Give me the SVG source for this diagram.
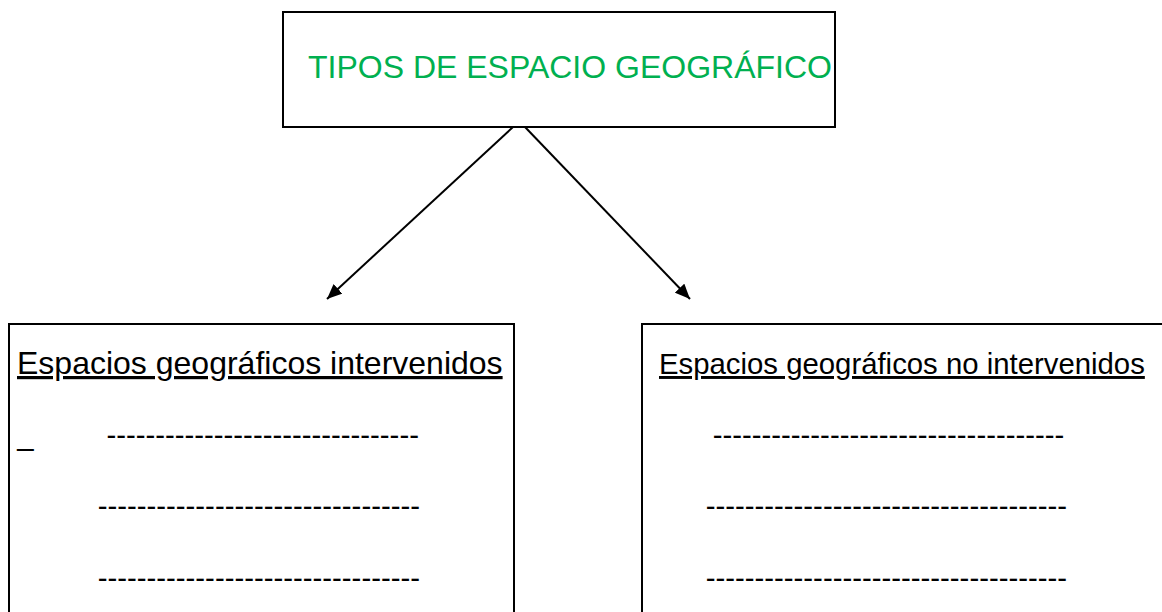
<svg xmlns="http://www.w3.org/2000/svg" width="1162" height="612" viewBox="0 0 1162 612">
<style>
.box{fill:#ffffff;stroke:#000000;stroke-width:2}
.t{font-family:"Liberation Sans",Arial,sans-serif;fill:#000000}
.title{font-size:32px;fill:#00B050}
.h{text-decoration:underline}
.s32{font-size:32px}
.s29{font-size:29.33px}
.conn{stroke:#000000;stroke-width:2;fill:none}
</style>
<defs>
<marker id="ah" markerUnits="userSpaceOnUse" markerWidth="16" markerHeight="13" refX="15" refY="6.5" orient="auto">
<path d="M0,0 L15,6.5 L0,13 Z" fill="#000000"/>
</marker>
</defs>
<rect width="1162" height="612" fill="#ffffff"/>
<g id="node-top">
<rect class="box" x="283" y="12" width="552" height="115"/>
<text class="t title" x="308" y="78">TIPOS DE ESPACIO GEOGRÁFICO</text>
</g>
<g id="node-left">
<rect class="box" x="9" y="324" width="505" height="300"/>
<text class="t s32 h" x="17" y="374">Espacios geográficos intervenidos</text>
<text class="t s29" x="17.3" y="445">_</text>
<text class="t s29" x="106.4" y="445">--------------------------------</text>
<text class="t s29" x="97.7" y="516">---------------------------------</text>
<text class="t s29" x="97.7" y="587.5">---------------------------------</text>
</g>
<g id="node-right">
<rect class="box" x="642" y="324" width="530" height="300"/>
<text class="t s29 h" x="659" y="374">Espacios geográficos no intervenidos</text>
<text class="t s29" x="712.7" y="445">------------------------------------</text>
<text class="t s29" x="705.7" y="516">-------------------------------------</text>
<text class="t s29" x="705.7" y="587.5">-------------------------------------</text>
</g>
<g id="connectors">
<line class="conn" x1="513" y1="127" x2="327" y2="299" marker-end="url(#ah)"/>
<line class="conn" x1="525" y1="127" x2="690" y2="299" marker-end="url(#ah)"/>
</g>
</svg>
